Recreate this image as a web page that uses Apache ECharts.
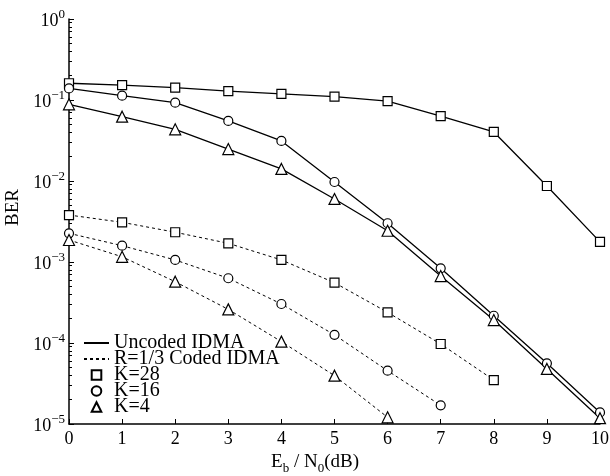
<!DOCTYPE html>
<html>
<head>
<meta charset="utf-8">
<script src="https://cdn.jsdelivr.net/npm/echarts@6/dist/echarts.min.js"></script>
<style>
  html, body { margin:0; padding:0; background:#fff; }
  #chart { width:610px; height:476px; }
</style>
</head>
<body>
<div id="chart"></div>
<script>
// Eb/N0 in dB
var snr = [0, 1, 2, 3, 4, 5, 6, 7, 8, 9, 10];

// uncoded IDMA BER
var uncodedK28 = [0.161, 0.153, 0.142, 0.129, 0.119, 0.110, 0.097, 0.0634, 0.0403, 0.00867, 0.00177];
var uncodedK16 = [0.139, 0.113, 0.0926, 0.0551, 0.0312, 0.00972, 0.00301, 0.000836, 0.000217, 5.61e-5, 1.39e-5];
var uncodedK4  = [0.0885, 0.0622, 0.0435, 0.0248, 0.0141, 0.0060, 0.00243, 0.000671, 0.000192, 4.78e-5, 1.18e-5];

// R=1/3 coded IDMA BER
var codedK28 = [0.0038, 0.00309, 0.00233, 0.00170, 0.00106, 0.000555, 0.000239, 9.72e-5, 3.49e-5];
var codedK16 = [0.00226, 0.00159, 0.00106, 0.00063, 0.000303, 0.000126, 4.55e-5, 1.70e-5];
var codedK4  = [0.00187, 0.00116, 0.000571, 0.00026, 0.000104, 3.95e-5, 1.21e-5];

var decades = [1e-5, 1e-4, 1e-3, 1e-2, 1e-1, 1];
var minorSteps = [2, 3, 4, 5, 6, 7, 8, 9];

var minorTicks = [];
decades.slice(0, 5).forEach(function (d) {
  minorSteps.forEach(function (m) { minorTicks.push(m * d); });
});

var font = 'Liberation Serif';

function pairs(ys) {
  return ys.map(function (y, i) { return [snr[i], y]; });
}

function curve(name, ys, symbol, dashed) {
  return {
    name: name,
    type: 'line',
    data: pairs(ys),
    symbol: symbol,
    symbolSize: symbol === 'triangle' ? 11 : 9,
    showAllSymbol: true,
    silent: true,
    itemStyle: { color: '#fff', borderColor: '#000', borderWidth: 1.2 },
    lineStyle: { color: '#000', width: dashed ? 1 : 1.3, type: dashed ? [3, 3] : 'solid' },
    z: 3
  };
}

function legendDummy(name, symbol, dashed) {
  return {
    name: name,
    type: 'line',
    data: [],
    symbol: symbol,
    itemStyle: { color: '#fff', borderColor: '#000', borderWidth: 1.2 },
    lineStyle: { color: '#000', width: 1.2, type: dashed ? [3, 3] : 'solid' }
  };
}

var chart = echarts.init(document.getElementById('chart'));

chart.setOption({
  animation: false,
  backgroundColor: '#fff',
  grid: { left: 69, right: 10, top: 19, bottom: 52, containLabel: false, outerBoundsMode: 'none' },
  legend: {
    orient: 'vertical',
    left: 83,
    top: 333,
    itemWidth: 25,
    itemHeight: 12,
    itemGap: -4,
    padding: 0,
    textStyle: { fontFamily: font, fontSize: 20, color: '#000' },
    data: [
      { name: 'Uncoded IDMA', itemStyle: { opacity: 0 } },
      { name: 'R=1/3 Coded IDMA', itemStyle: { opacity: 0 } },
      { name: 'K=28', lineStyle: { opacity: 0 } },
      { name: 'K=16', lineStyle: { opacity: 0 } },
      { name: 'K=4', lineStyle: { opacity: 0 } }
    ]
  },
  xAxis: {
    type: 'value',
    min: 0,
    max: 10,
    interval: 1,
    name: '{n|E}{sub|b}{n| / N}{sub|0}{n|(dB)}',
    nameLocation: 'middle',
    nameGap: 28,
    nameTextStyle: {
      padding: [0, 39, 0, 0],
      rich: {
        n: { fontFamily: font, fontSize: 19, color: '#000', lineHeight: 22, verticalAlign: 'top' },
        sub: { fontFamily: font, fontSize: 13, color: '#000', lineHeight: 22, verticalAlign: 'bottom' }
      }
    },
    axisLine: { lineStyle: { color: '#000', width: 1.5 } },
    axisTick: { inside: true, length: 5, lineStyle: { color: '#000', width: 1 } },
    axisLabel: { fontFamily: font, fontSize: 18, color: '#000', margin: 6 },
    splitLine: { show: false }
  },
  yAxis: [{
    type: 'log',
    logBase: 10,
    min: 1e-5,
    max: 1,
    name: 'BER',
    nameLocation: 'middle',
    nameGap: 42,
    nameTextStyle: { fontFamily: font, fontSize: 19, color: '#000', padding: [0, 0, 0, 28] },
    axisLine: { lineStyle: { color: '#000', width: 1.5 } },
    axisTick: { inside: true, length: 5, lineStyle: { color: '#000', width: 1 } },
    axisLabel: {
      margin: 4,
      formatter: function (v) {
        var e = Math.round(Math.log10(v));
        return '{b|10}{s|' + (e < 0 ? '\u2212' + (-e) : e) + '}';
      },
      rich: {
        b: { fontFamily: font, fontSize: 18, color: '#000', lineHeight: 22, verticalAlign: 'bottom' },
        s: { fontFamily: font, fontSize: 13, color: '#000', lineHeight: 13, verticalAlign: 'top' }
      }
    },
    splitLine: { show: false }
  }, {
    // minor log ticks
    type: 'log',
    logBase: 10,
    min: 1e-5,
    max: 1,
    position: 'left',
    axisLine: { show: false },
    axisLabel: { show: false },
    splitLine: { show: false },
    axisTick: { inside: true, length: 3, customValues: minorTicks, lineStyle: { color: '#000', width: 1 } }
  }],
  series: [
    curve('u28', uncodedK28, 'rect', false),
    curve('u16', uncodedK16, 'circle', false),
    curve('u4', uncodedK4, 'triangle', false),
    curve('c28', codedK28, 'rect', true),
    curve('c16', codedK16, 'circle', true),
    curve('c4', codedK4, 'triangle', true),
    legendDummy('Uncoded IDMA', 'none', false),
    legendDummy('R=1/3 Coded IDMA', 'none', true),
    legendDummy('K=28', 'rect', false),
    legendDummy('K=16', 'circle', false),
    legendDummy('K=4', 'triangle', false)
  ]
});
</script>
</body>
</html>
